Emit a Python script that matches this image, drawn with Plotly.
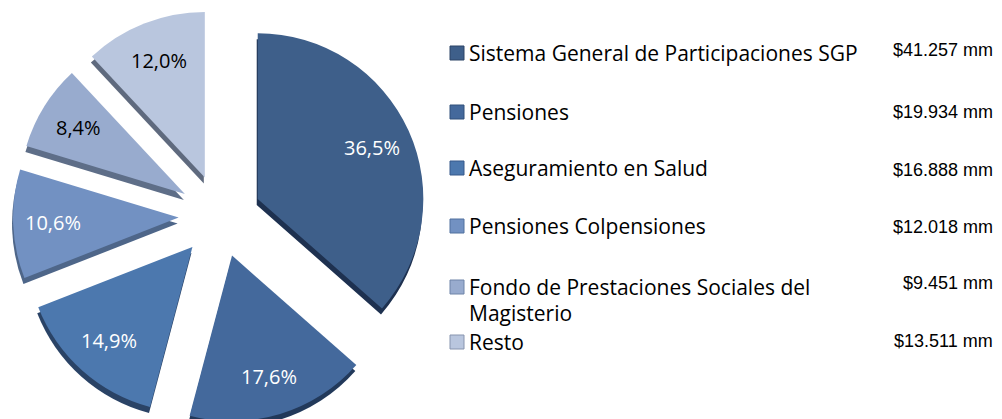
import math
import plotly.graph_objects as go

labels = ["Sistema General de Participaciones SGP", "Pensiones", "Aseguramiento en Salud",
          "Pensiones Colpensiones", "Fondo de Prestaciones Sociales del<br>Magisterio", "Resto"]
values = [41257, 19934, 16888, 12018, 9451, 13511]
amount_labels = ["$41.257 mm", "$19.934 mm", "$16.888 mm", "$12.018 mm", "$9.451 mm", "$13.511 mm"]

top_colors = ["#3E5F8A", "#44699C", "#4C78AE", "#7291C2", "#98ABCE", "#B9C6DE"]
side_colors = ["#1E3150", "#22395A", "#2A4366", "#4E6689", "#5E6E88", "#5F6A7E"]
text_colors = ["white", "white", "white", "white", "black", "black"]
border_colors = ["#2C4566", "#30507A", "#36598A", "#50709E", "#6F84A8", "#8794AE"]

# page body has an 8px margin; work in screen pixels and convert
OFF = 8
W, H = 994, 430

def px(X):
    return (X - OFF) / W

def py(Y):
    return 1 - (Y - OFF) / H

cx, cy, half = 220, 216, 207
pull = 0.25
dx, dy = -1, 6

def dom(cx_, cy_):
    return dict(x=[px(cx_ - half), px(cx_ + half)],
                y=[max(0, py(cy_ + half)), py(cy_ - half)])

fig = go.Figure()
fig.add_trace(go.Pie(
    labels=labels, values=values, sort=False, direction="clockwise", rotation=0,
    pull=[pull] * len(values), domain=dom(cx + dx, cy + dy),
    marker=dict(colors=side_colors, line=dict(width=0)),
    textinfo="none", hoverinfo="skip", showlegend=False))
fig.add_trace(go.Pie(
    labels=labels, values=values, sort=False, direction="clockwise", rotation=0,
    pull=[pull] * len(values), domain=dom(cx, cy),
    marker=dict(colors=top_colors, line=dict(width=0)),
    textinfo="none", showlegend=False))

annotations = []
shapes = []

# percentage labels placed along each slice's bisector
total = sum(values)
r = half / (1 + pull)
cum = 0
for i, v in enumerate(values):
    mid = (cum + v / 2) / total * 2 * math.pi
    cum += v
    dist = (pull + 0.76) * r
    X = cx + dist * math.sin(mid)
    Y = cy - dist * math.cos(mid)
    pct = f"{v / total * 100:.1f}%".replace(".", ",")
    annotations.append(dict(text=pct, xref="paper", yref="paper", x=px(X), y=py(Y),
                            xanchor="center", yanchor="middle", showarrow=False,
                            font=dict(family="Open Sans", size=20, color=text_colors[i])))

row_y = [53, 112, 168, 226, 287, 342]
amt_y = [50, 112, 170, 227, 283, 341]
for i, lab in enumerate(labels):
    y0 = row_y[i]
    shapes.append(dict(type="rect", xref="paper", yref="paper",
                       x0=px(450), x1=px(464), y0=py(y0 + 7), y1=py(y0 - 7),
                       fillcolor=top_colors[i], line=dict(color=border_colors[i], width=1)))
    for j, line in enumerate(lab.split("<br>")):
        annotations.append(dict(text=line, xref="paper", yref="paper",
                                x=px(467), y=py(y0 + j * 26),
                                xanchor="left", yanchor="middle", showarrow=False,
                                font=dict(family="Open Sans", size=21, color="#000000")))
    annotations.append(dict(text=amount_labels[i], xref="paper", yref="paper",
                            x=px(995), y=py(amt_y[i]),
                            xanchor="right", yanchor="middle", showarrow=False,
                            font=dict(family="Liberation Sans", size=18, color="#000000")))

fig.update_layout(width=W, height=H, margin=dict(l=0, r=0, t=0, b=0),
                  paper_bgcolor="white", plot_bgcolor="white",
                  separators=",.", shapes=shapes, annotations=annotations)
fig.write_html("out.html")
